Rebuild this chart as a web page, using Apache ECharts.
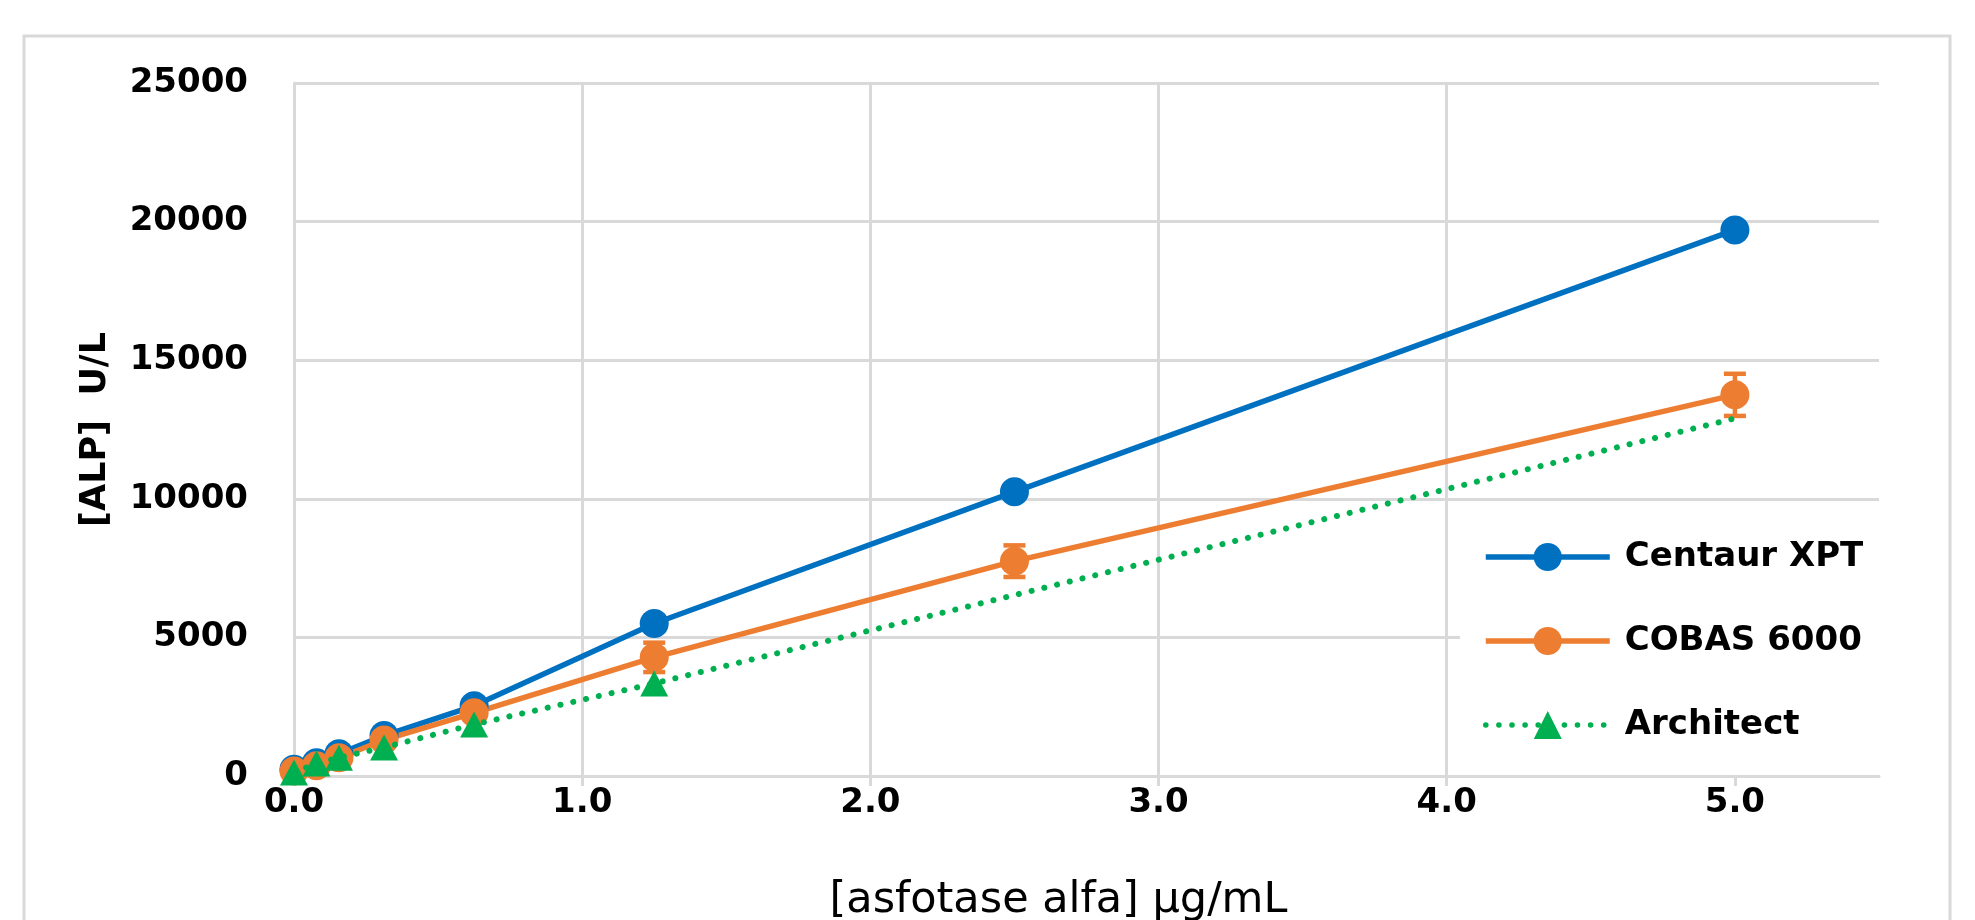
<!DOCTYPE html>
<html>
<head>
<meta charset="utf-8">
<script src="https://cdn.jsdelivr.net/npm/echarts@6/dist/echarts.min.js"></script>
<style>
  html, body { margin: 0; padding: 0; background: #fff; }
  #chart { width: 1975px; height: 920px; }
</style>
</head>
<body>
<div id="chart"></div>
<script>
// concentrations (µg/mL)
const concentrations = [0, 0.078, 0.156, 0.3125, 0.625, 1.25, 2.5, 5.0];
const centaurValues = [240, 480, 800, 1460, 2530, 5500, 10250, 19700];
const cobasValues = [180, 370, 660, 1300, 2280, 4280, 7750, 13750];
const cobasErrors = [40, 60, 90, 120, 200, 530, 570, 760];
// Architect has no marker at 5.0
const architectConc = [0, 0.078, 0.156, 0.3125, 0.625, 1.25, 5.0];
const architectValues = [130, 450, 660, 1030, 1860, 3340, 12900];
const xTicks = [0, 1, 2, 3, 4, 5];

const BLUE = '#0070C0';
const ORANGE = '#ED7D31';
const GREEN = '#00B050';
const GRID = '#D9D9D9';
const FONT = 'DejaVu Sans';

const chart = echarts.init(document.getElementById('chart'));

const pairs = (xs, ys) => xs.map((x, i) => [x, ys[i]]);

chart.setOption({
  animation: false,
  backgroundColor: '#fff',
  graphic: [
    {
      type: 'rect',
      shape: { x: 24, y: 36, width: 1926, height: 920 },
      style: { fill: 'none', stroke: GRID, lineWidth: 3 },
      z: -1
    }
  ],
  grid: { left: 294, right: 96, top: 83, bottom: 144, outerBoundsMode: 'none' },
  legend: {
    orient: 'vertical',
    left: 1460,
    top: 514,
    padding: [26, 20, 25, 23],
    backgroundColor: '#fff',
    itemWidth: 124,
    itemHeight: 35,
    itemGap: 50,
    lineStyle: { width: 5.5 },
    data: ['Centaur XPT', 'COBAS 6000', 'Architect'],
    textStyle: {
      fontFamily: FONT, fontWeight: 'bold', fontSize: 34, color: '#000',
      padding: [0, 0, 0, 10]
    }
  },
  xAxis: {
    type: 'value',
    min: 0,
    max: 5.5,
    interval: 1,
    name: '[asfotase alfa] µg/mL',
    nameLocation: 'middle',
    nameGap: 103,
    nameTextStyle: { fontFamily: FONT, fontSize: 43, color: '#000', padding: [0, 56, 0, 0] },
    axisLine: { show: true, onZero: false, lineStyle: { color: GRID, width: 3 } },
    axisTick: { show: true, length: 10, customValues: xTicks, lineStyle: { color: GRID, width: 3 } },
    axisLabel: {
      customValues: xTicks,
      margin: 10,
      fontFamily: FONT, fontWeight: 'bold', fontSize: 34, color: '#000',
      formatter: v => v.toFixed(1)
    },
    splitLine: { show: true, showMaxLine: false, lineStyle: { color: GRID, width: 3 } }
  },
  yAxis: {
    type: 'value',
    min: 0,
    max: 25000,
    interval: 5000,
    name: '[ALP]  U/L',
    nameLocation: 'middle',
    nameGap: 181,
    nameTextStyle: { fontFamily: FONT, fontWeight: 'bold', fontSize: 35, color: '#000' },
    axisLine: { show: true, lineStyle: { color: GRID, width: 3 } },
    axisTick: { show: false },
    axisLabel: {
      margin: 46,
      fontFamily: FONT, fontWeight: 'bold', fontSize: 34, color: '#000',
      formatter: v => String(v)
    },
    splitLine: { show: true, lineStyle: { color: GRID, width: 3 } }
  },
  series: [
    {
      name: 'Centaur XPT',
      type: 'line',
      data: pairs(concentrations, centaurValues),
      symbol: 'circle',
      symbolSize: 29,
      lineStyle: { color: BLUE, width: 5.5 },
      itemStyle: { color: BLUE }
    },
    {
      name: 'COBAS errors',
      type: 'custom',
      data: concentrations.map((x, i) => [x, cobasValues[i], cobasErrors[i]]),
      renderItem: (params, api) => {
        const x = api.value(0), y = api.value(1), e = api.value(2);
        const hi = api.coord([x, y + e]);
        const lo = api.coord([x, y - e]);
        const hw = 11;
        const st = { stroke: ORANGE, lineWidth: 4.5 };
        return {
          type: 'group',
          children: [
            { type: 'line', shape: { x1: hi[0], y1: hi[1], x2: lo[0], y2: lo[1] }, style: st },
            { type: 'line', shape: { x1: hi[0] - hw, y1: hi[1], x2: hi[0] + hw, y2: hi[1] }, style: st },
            { type: 'line', shape: { x1: lo[0] - hw, y1: lo[1], x2: lo[0] + hw, y2: lo[1] }, style: st }
          ]
        };
      },
      z: 2
    },
    {
      name: 'COBAS 6000',
      type: 'line',
      data: pairs(concentrations, cobasValues),
      symbol: 'circle',
      symbolSize: 29,
      lineStyle: { color: ORANGE, width: 5.5 },
      itemStyle: { color: ORANGE },
      z: 3
    },
    {
      name: 'Architect',
      type: 'line',
      data: pairs(architectConc, architectValues).map((p, i, arr) =>
        i === arr.length - 1 ? { value: p, symbol: 'none' } : p),
      symbol: 'triangle',
      symbolSize: [28, 26],
      lineStyle: { color: GREEN, width: 6, type: [0.1, 13], cap: 'round' },
      itemStyle: { color: GREEN },
      z: 4
    }
  ]
});
</script>
</body>
</html>
